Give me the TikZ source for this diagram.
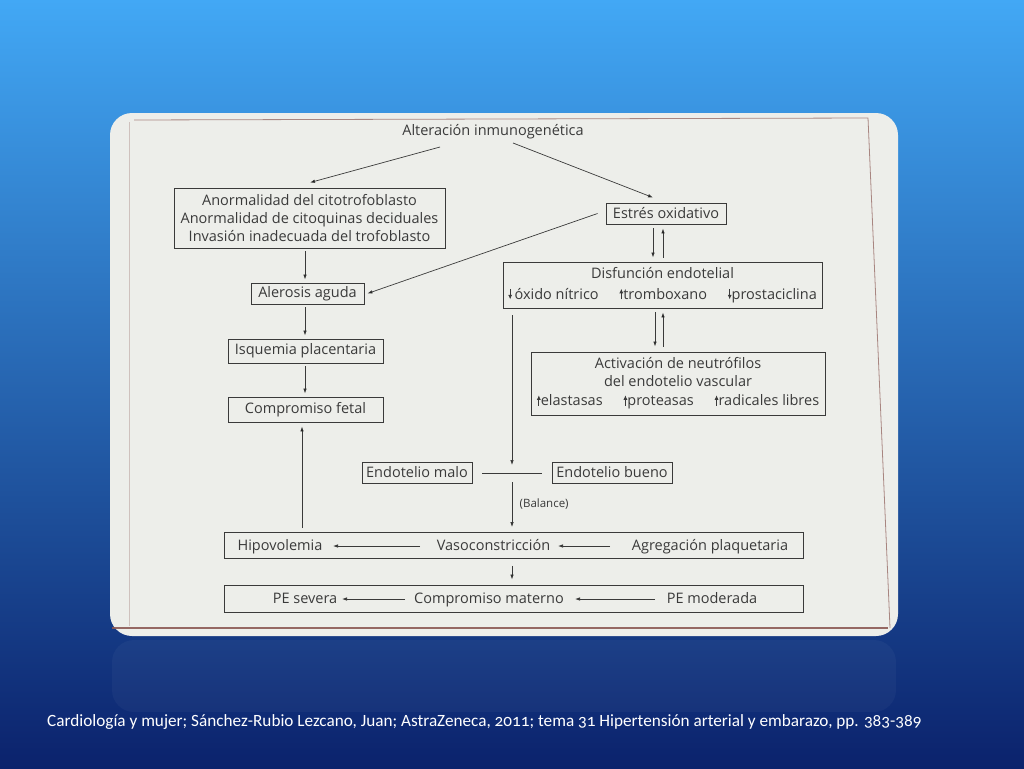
\documentclass[tikz,border=0pt]{standalone}
\usepackage{fontspec}
\setmainfont{Open Sans}
\newfontfamily\capfont{Carlito}[Numbers=OldStyle]
\usetikzlibrary{arrows.meta,positioning}
\definecolor{skytop}{HTML}{42A8F5}
\definecolor{skymid}{HTML}{1F62BE}
\definecolor{skybot}{HTML}{0B226C}
\definecolor{paperc}{HTML}{EDEEEA}
\definecolor{inkc}{HTML}{3A3A3A}
\definecolor{edgec}{HTML}{8C5A55}
\newcommand{\diag}{\fontsize{14.5}{18}\selectfont}
\newcommand{\dnar}{\tikz[baseline=0pt]\draw[-{Latex[length=4.5pt,width=4pt]}, line width=0.7pt, draw=inkc] (0pt,10.5pt) -- (0pt,0pt);}
\newcommand{\uparr}{\tikz[baseline=0pt]\draw[-{Latex[length=4.5pt,width=4pt]}, line width=0.7pt, draw=inkc] (0pt,0pt) -- (0pt,10.5pt);}

\begin{document}
\begin{tikzpicture}[
  x=1pt, y=-1pt,
  caja/.style={draw=inkc, line width=0.9pt, inner sep=0pt, align=center,
    font=\diag, text=inkc},
  txt/.style={inner sep=1pt, font=\diag, text=inkc, align=center},
  bandtxt/.style={inner sep=1pt, font=\diag, text=inkc, text height=10pt, text depth=2pt},
  arr/.style={-{Latex[length=5pt, width=3.5pt]}, line width=0.7pt, draw=inkc},
  ln/.style={line width=0.7pt, draw=inkc}
]
  % slide background and photographed page
  \shade[top color=skytop, middle color=skymid, bottom color=skybot] (0,0) rectangle (1024,768);
  \fill[white, opacity=0.035, rounded corners=22pt] (112,640) rectangle (896,712);
  \fill[paperc, rounded corners=22pt] (110,113) rectangle (898,636);
  \draw[edgec, line width=0.8pt, opacity=0.7] (134,120) -- (868,118) -- (890,628);
  \draw[edgec, line width=1.2pt, opacity=0.9] (112,628) -- (888,628);
  \draw[edgec, line width=0.5pt, opacity=0.3] (129,122) -- (129,626);

  % left branch
  \node[txt] (alter) at (493,132) {Alteración inmunogenética};
  \node[caja, minimum width=271pt, minimum height=60pt] (anorm) at (309.5,218)
    {Anormalidad del citotrofoblasto\\ Anormalidad de citoquinas deciduales\\ Invasión inadecuada del trofoblasto};
  \node[caja, minimum width=113pt, minimum height=21pt] (aler) at (307.5,293.5) {Alerosis aguda};
  \node[caja, minimum width=155pt, minimum height=24pt] (isq) at (305.5,351) {Isquemia placentaria};
  \node[caja, minimum width=155pt, minimum height=25pt] (fetal) at (305.5,409.5) {Compromiso fetal};

  % right branch
  \node[caja, minimum width=120pt, minimum height=21pt] (estres) at (666,213.5) {Estrés oxidativo};
  \node[caja, minimum width=319pt, minimum height=46pt] (disf) at (662.5,285)
    {Disfunción endotelial\\[3pt] \dnar\,óxido nítrico\quad\, \uparr tromboxano\quad\, \dnar prostaciclina};
  \node[caja, minimum width=294pt, minimum height=63pt] (activ) at (678,383.5)
    {Activación de neutrófilos\\ del endotelio vascular\\[1pt] \uparr elastasas\quad\, \uparr proteasas\quad\, \uparr radicales libres};

  % balance
  \node[caja, minimum width=110pt, minimum height=21pt] (malo) at (417,472.5) {Endotelio malo};
  \node[caja, minimum width=120pt, minimum height=21pt] (bueno) at (612,472.5) {Endotelio bueno};
  \coordinate (barL) at (482,473);
  \coordinate (barR) at (542,473);
  \coordinate (barC) at (512,473);

  % bottom bands
  \node[caja, minimum width=579pt, minimum height=26pt] (vasobox) at (513.5,545.5) {};
  \node[bandtxt] (hipo) at (280,546) {Hipovolemia};
  \node[bandtxt] (vaso) at (493.5,546) {Vasoconstricción};
  \node[bandtxt] (agreg) at (710,546) {Agregación plaquetaria};
  \node[caja, minimum width=579pt, minimum height=27pt] (matbox) at (513.5,598.5) {};
  \node[bandtxt] (sev) at (305,599) {PE severa};
  \node[bandtxt] (mat) at (489,599) {Compromiso materno};
  \node[bandtxt] (mod) at (712,599) {PE moderada};

  \draw[arr] ([xshift=-53pt, yshift=-15pt]alter.center) -- ([xshift=0.5pt, yshift=5pt]anorm.north);
  \draw[arr] ([xshift=20pt, yshift=-11pt]alter.center) -- ([xshift=-13pt, yshift=5pt]estres.north);
  \draw[arr] ([xshift=-8pt]estres.west) -- ([xshift=3pt]aler.east);
  \draw[arr] ([xshift=-4.5pt, yshift=-3pt]anorm.south) -- ([xshift=-2.5pt, yshift=3pt]aler.north);
  \draw[arr] ([xshift=-2.5pt, yshift=-3pt]aler.south) -- ([xshift=-0.5pt, yshift=3pt]isq.north);
  \draw[arr] ([xshift=-0.5pt, yshift=-3pt]isq.south) -- ([xshift=-0.5pt, yshift=3pt]fetal.north);

  \draw[arr] ([xshift=-13pt, yshift=-4pt]estres.south) -- ([xshift=-9.5pt, yshift=4pt]disf.north);
  \draw[arr] ([xshift=0.5pt, yshift=4pt]disf.north) -- ([xshift=-3pt, yshift=-4pt]estres.south);
  \draw[arr] ([xshift=-7.5pt, yshift=-4pt]disf.south) -- ([xshift=-23pt, yshift=5pt]activ.north);
  \draw[arr] ([xshift=-15pt, yshift=5pt]activ.north) -- ([xshift=0.5pt, yshift=-4pt]disf.south);

  \draw[arr] ([xshift=-150.5pt, yshift=-7pt]disf.south) -- ([yshift=8pt]barC);
  \draw[ln] (barL) -- (barR);
  \draw[arr] ([yshift=-9pt]barC) -- node[right, font=\fontsize{11.5}{13}\selectfont, text=inkc, xshift=4pt] {(Balance)}
    ([xshift=-1.5pt, yshift=5pt]vasobox.north);

  \draw[arr] ([xshift=-211.5pt, yshift=4pt]vasobox.north) -- ([xshift=-3.5pt, yshift=-4pt]fetal.south);
  \draw[arr] ([xshift=-100pt]agreg.center) -- ([xshift=64.5pt]vaso.center);
  \draw[arr] ([xshift=-73.5pt]vaso.center) -- ([xshift=53pt]hipo.center);
  \draw[arr] ([xshift=-1.5pt, yshift=-7pt]vasobox.south) -- ([xshift=-1.5pt, yshift=5pt]matbox.north);
  \draw[arr] ([xshift=-84pt]mat.center) -- ([xshift=37pt]sev.center);
  \draw[arr] ([xshift=-57pt]mod.center) -- ([xshift=86pt]mat.center);

  \node[anchor=west, text=white, font=\capfont\fontsize{17.2}{20}\selectfont, inner sep=0pt] (cita) at (47,722)
    {Cardiología y mujer; Sánchez-Rubio Lezcano, Juan; AstraZeneca, 2011; tema 31 Hipertensión arterial y embarazo, pp. 383-389};
\end{tikzpicture}
\end{document}
